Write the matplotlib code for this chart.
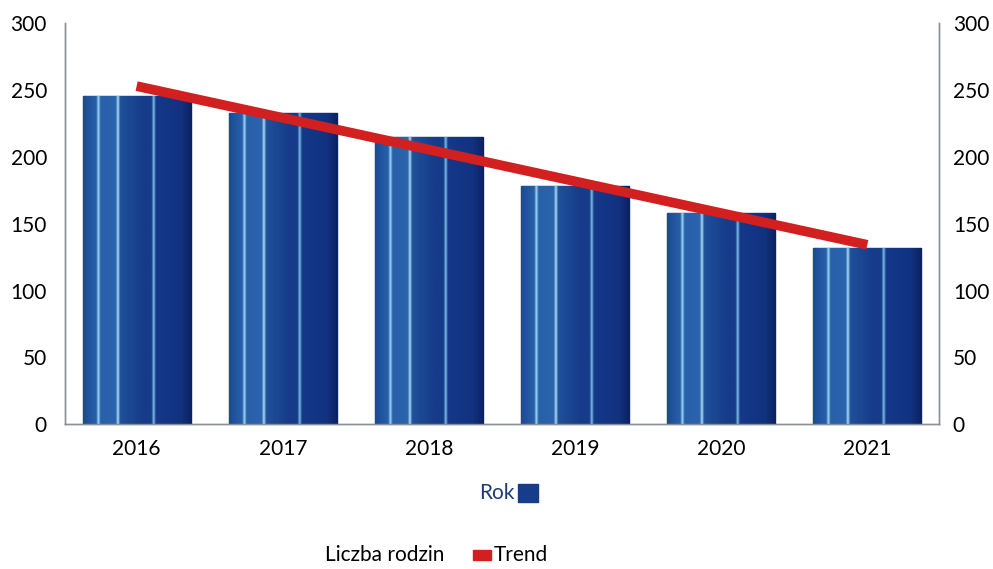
import numpy as np
import matplotlib.pyplot as plt
from matplotlib.colors import to_rgb

plt.rcParams['font.family'] = ['Lato', 'DejaVu Sans']

years = ["2016", "2017", "2018", "2019", "2020", "2021"]
families = [246, 233, 215, 178, 158, 132]
y_ticks = [0, 50, 100, 150, 200, 250, 300]

bar_color = "#173c8a"
trend_color = "#d21f1f"

fig = plt.figure(figsize=(9.93, 5.69), dpi=100)
ax = fig.add_axes([0.0655, 0.2548, 0.880, 0.7039])

x = np.arange(len(years))
bars = ax.bar(x, families, width=0.74, color=bar_color, edgecolor="#0c2461",
              linewidth=1.0, zorder=2)

# striped fill, like the scanned bars
stops = [(0.00, "#1b4a97"), (0.12, "#2860aa"), (0.14, "#9fdcf5"), (0.16, "#2860aa"),
         (0.30, "#2b64ad"), (0.32, "#a9e2f7"), (0.34, "#20519a"), (0.55, "#163b89"),
         (0.63, "#163b89"), (0.65, "#7cc4ea"), (0.67, "#15388a"), (0.90, "#123280"),
         (1.00, "#0b2260")]
pos = np.linspace(0, 1, 200)
grad = np.zeros((1, 200, 3))
for c in range(3):
    grad[0, :, c] = np.interp(pos, [s[0] for s in stops], [to_rgb(s[1])[c] for s in stops])

for b in bars:
    x0, w, h = b.get_x(), b.get_width(), b.get_height()
    im = ax.imshow(grad, extent=(x0, x0 + w, 0, h), aspect="auto", zorder=3,
                   interpolation="bilinear")
    im.set_clip_path(b)

# linear trend of the data
coef = np.polyfit(x, families, 1)
trend = np.polyval(coef, x)
ax.plot([x[0], x[-1]], [trend[0], trend[-1]], color=trend_color, linewidth=7,
        solid_capstyle="butt", zorder=4)

ax.set_xlim(-0.49, 5.49)
ax.set_ylim(0, 300)
ax.set_yticks(y_ticks)
ax.set_xticks(x)
ax.set_xticklabels(years)
ax.tick_params(axis="both", length=0, labelsize=15)
ax.tick_params(axis="y", pad=13)
ax.tick_params(axis="x", pad=11)

ax2 = ax.twinx()
ax2.set_ylim(0, 300)
ax2.set_yticks(y_ticks)
ax2.tick_params(axis="y", length=0, labelsize=15, pad=10)

for a in (ax, ax2):
    a.spines["top"].set_visible(False)
    for s in ("left", "right", "bottom"):
        a.spines[s].set_color("#8a8f99")
        a.spines[s].set_linewidth(1.0)

# legend drawn as text + squares
fig.text(0.5185, 0.133, "Rok", ha="right", va="center", fontsize=15, color="#1f3a7a")
fig.patches.append(plt.Rectangle((0.522, 0.118), 0.020, 0.032, transform=fig.transFigure,
                                 color=bar_color, figure=fig))
fig.text(0.327, 0.024, "Liczba rodzin", ha="left", va="center", fontsize=15, color="black")
fig.patches.append(plt.Rectangle((0.476, 0.016), 0.018, 0.018, transform=fig.transFigure,
                                 color=trend_color, figure=fig))
fig.text(0.497, 0.024, "Trend", ha="left", va="center", fontsize=15, color="black")

fig.savefig("out.png", dpi=100)
